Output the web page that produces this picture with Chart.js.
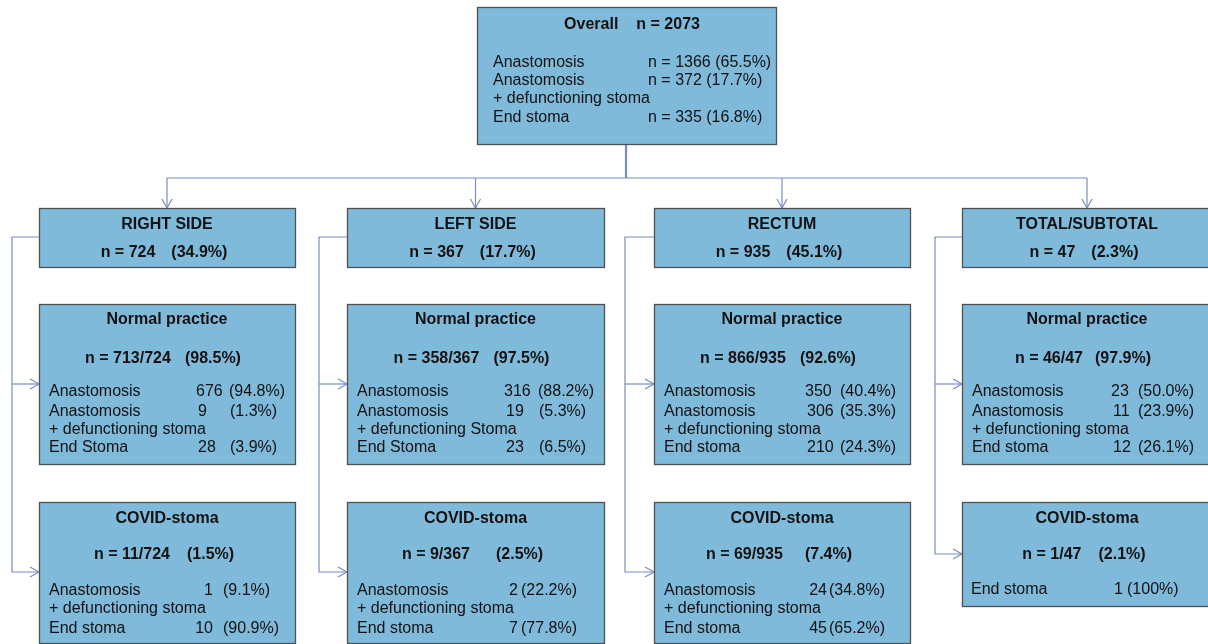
<!DOCTYPE html>
<html>
<head>
<meta charset="utf-8">
<script src="https://cdn.jsdelivr.net/npm/chart.js@4.4.0/dist/chart.umd.min.js"></script>
<style>
  html, body { margin: 0; padding: 0; background: #fff; }
  canvas { display: block; }
</style>
</head>
<body>
<canvas id="flow" width="1208" height="644"></canvas>
<script>
// ---- data ----
const overallN = 2073;
const overallRows = ['Anastomosis', 'Anastomosis', 'End stoma'];
const overallCounts = [1366, 372, 335];
const overallPct = ['65.5', '17.7', '16.8'];

const groups = ['RIGHT SIDE', 'LEFT SIDE', 'RECTUM', 'TOTAL/SUBTOTAL'];
const groupN = [724, 367, 935, 47];
const groupPct = ['34.9', '17.7', '45.1', '2.3'];

const normalN = [713, 358, 866, 46];
const normalPct = ['98.5', '97.5', '92.6', '97.9'];
const normalAnast = [676, 316, 350, 23];
const normalAnastPct = ['94.8', '88.2', '40.4', '50.0'];
const normalDefunc = [9, 19, 306, 11];
const normalDefuncPct = ['1.3', '5.3', '35.3', '23.9'];
const normalDefuncLabel = ['+ defunctioning stoma', '+ defunctioning Stoma', '+ defunctioning stoma', '+ defunctioning stoma'];
const normalEnd = [28, 23, 210, 12];
const normalEndPct = ['3.9', '6.5', '24.3', '26.1'];
const normalEndLabel = ['End Stoma', 'End Stoma', 'End stoma', 'End stoma'];

const covidN = [11, 9, 69, 1];
const covidPct = ['1.5', '2.5', '7.4', '2.1'];
const covidDefunc = [1, 2, 24, null];
const covidDefuncPct = ['9.1', '22.2', '34.8', null];
const covidEnd = [10, 7, 45, 1];
const covidEndPct = ['90.9', '77.8', '65.2', '100'];

// ---- layout (data units == pixels of the 1208x644 frame) ----
const colLeft = [39, 347, 654, 962];
const colWidth = [256, 257, 256, 250];
const sideX = [12, 319, 625, 935];
const numX = [157, 157, 151, 149];     // normal practice count column
const pctX = [190, 191, 186, 176];     // normal practice pct column
const covNumR = [174, 171, 173, 161];  // covid count right edge
const covPctX = [184, 174, 175, 165];
const nGap = [14, 14, 14, 12];
const covGap = [17, 26, 22, 17];
const TY = 2; // text nudge so glyph centres sit where the figure has them

const FILL = '#80badb';
const EDGE = '#505050';
const LINK = '#7b8cbf';
const FONT = '"Liberation Sans", Arial, Helvetica, sans-serif';

const flowPlugin = {
  id: 'flow',
  beforeDatasetsDraw(chart) {
    const ctx = chart.ctx;
    const xs = chart.scales.x, ys = chart.scales.y;
    const X = v => xs.getPixelForValue(v);
    const Y = v => ys.getPixelForValue(v);

    function box(x, y, w, h) {
      ctx.save();
      ctx.fillStyle = FILL;
      ctx.fillRect(X(x), Y(y), X(x + w) - X(x), Y(y + h) - Y(y));
      ctx.strokeStyle = EDGE;
      ctx.lineWidth = 1.3;
      ctx.strokeRect(X(x) + 0.5, Y(y) + 0.5, X(x + w) - X(x), Y(y + h) - Y(y));
      ctx.restore();
    }
    function text(s, x, y, opt) {
      opt = opt || {};
      ctx.save();
      ctx.font = (opt.bold ? 'bold ' : '') + '16px ' + FONT;
      ctx.fillStyle = '#111';
      ctx.textAlign = opt.align || 'left';
      ctx.textBaseline = 'middle';
      ctx.fillText(s, X(x), Y(y + TY));
      ctx.restore();
    }
    function pair(a, b, cx, y, gap) {
      ctx.save();
      ctx.font = 'bold 16px ' + FONT;
      const wa = ctx.measureText(a).width, wb = ctx.measureText(b).width;
      ctx.restore();
      const start = cx - (wa + gap + wb) / 2;
      text(a, start, y, { bold: true });
      text(b, start + wa + gap, y, { bold: true });
    }
    function poly(pts, width) {
      ctx.save();
      ctx.strokeStyle = LINK;
      ctx.lineWidth = width || 1.2;
      ctx.beginPath();
      pts.forEach((p, i) => i ? ctx.lineTo(X(p[0]), Y(p[1])) : ctx.moveTo(X(p[0]), Y(p[1])));
      ctx.stroke();
      ctx.restore();
    }
    function arrowDown(x, y) { poly([[x - 5, y - 9], [x, y], [x + 5, y - 9]]); }
    function arrowRight(x, y) { poly([[x - 9, y - 5], [x, y], [x - 9, y + 5]]); }

    // connectors
    const centers = colLeft.map((l, i) => l + colWidth[i] / 2);
    poly([[626, 144], [626, 178]], 2.2);
    poly([[centers[0], 178], [centers[3], 178]]);
    centers.forEach(c => { poly([[c, 178], [c, 208]]); arrowDown(c, 208); });
    groups.forEach((g, i) => {
      const covMid = covidDefunc[i] === null ? 554 : 572;
      poly([[colLeft[i], 237], [sideX[i], 237], [sideX[i], covMid], [colLeft[i], covMid]]);
      poly([[sideX[i], 384], [colLeft[i], 384]]);
      arrowRight(colLeft[i], 384);
      arrowRight(colLeft[i], covMid);
    });

    // overall box
    box(477, 7, 299, 137);
    pair('Overall', 'n = ' + overallN, 632, 23, 18);
    text(overallRows[0], 493, 61);
    text(overallRows[1], 493, 79);
    text('+ defunctioning stoma', 493, 97);
    text(overallRows[2], 493, 116);
    text('n = ' + overallCounts[0] + ' (' + overallPct[0] + '%)', 648, 61);
    text('n = ' + overallCounts[1] + ' (' + overallPct[1] + '%)', 648, 79);
    text('n = ' + overallCounts[2] + ' (' + overallPct[2] + '%)', 648, 116);

    groups.forEach((g, i) => {
      const L = colLeft[i], W = colWidth[i], C = L + W / 2;
      // group header
      box(L, 208, W, 59);
      text(g, C, 223, { bold: true, align: 'center' });
      pair('n = ' + groupN[i], '(' + groupPct[i] + '%)', C - 3, 251, 16);

      // normal practice
      box(L, 304, W, 160);
      text('Normal practice', C, 318, { bold: true, align: 'center' });
      pair('n = ' + normalN[i] + '/' + groupN[i], '(' + normalPct[i] + '%)', C - 4, 357, nGap[i]);
      text('Anastomosis', L + 10, 390);
      text(String(normalAnast[i]), L + numX[i], 390);
      text('(' + normalAnastPct[i] + '%)', L + pctX[i], 390);
      text('Anastomosis', L + 10, 410);
      text(String(normalDefunc[i]), L + numX[i] + 2, 410);
      text('(' + normalDefuncPct[i] + '%)', L + pctX[i] + (normalDefuncPct[i].length < 4 ? 1 : 0), 410);
      text(normalDefuncLabel[i], L + 10, 428);
      text(normalEndLabel[i], L + 10, 446);
      text(String(normalEnd[i]), L + numX[i] + 2, 446);
      text('(' + normalEndPct[i] + '%)', L + pctX[i] + (normalEndPct[i].length < 4 ? 1 : 0), 446);

      // covid stoma
      const hasDefunc = covidDefunc[i] !== null;
      box(L, 502, W, hasDefunc ? 141 : 104);
      text('COVID-stoma', C, 517, { bold: true, align: 'center' });
      pair('n = ' + covidN[i] + '/' + groupN[i], '(' + covidPct[i] + '%)', C - 3, 553, covGap[i]);
      if (hasDefunc) {
        text('Anastomosis', L + 10, 589);
        text(String(covidDefunc[i]), L + covNumR[i], 589, { align: 'right' });
        text('(' + covidDefuncPct[i] + '%)', L + covPctX[i], 589);
        text('+ defunctioning stoma', L + 10, 607);
        text('End stoma', L + 10, 627);
        text(String(covidEnd[i]), L + covNumR[i], 627, { align: 'right' });
        text('(' + covidEndPct[i] + '%)', L + covPctX[i], 627);
      } else {
        text('End stoma', L + 9, 588);
        text(String(covidEnd[i]), L + covNumR[i], 588, { align: 'right' });
        text('(' + covidEndPct[i] + '%)', L + covPctX[i], 588);
      }
    });
  }
};

new Chart(document.getElementById('flow'), {
  type: 'scatter',
  data: { datasets: [{ data: [], pointRadius: 0 }] },
  options: {
    responsive: false,
    animation: false,
    events: [],
    layout: { padding: 0 },
    plugins: { legend: { display: false }, tooltip: { enabled: false } },
    scales: {
      x: { type: 'linear', min: 0, max: 1208, display: false },
      y: { type: 'linear', min: 0, max: 644, reverse: true, display: false }
    }
  },
  plugins: [flowPlugin]
});
</script>
</body>
</html>
